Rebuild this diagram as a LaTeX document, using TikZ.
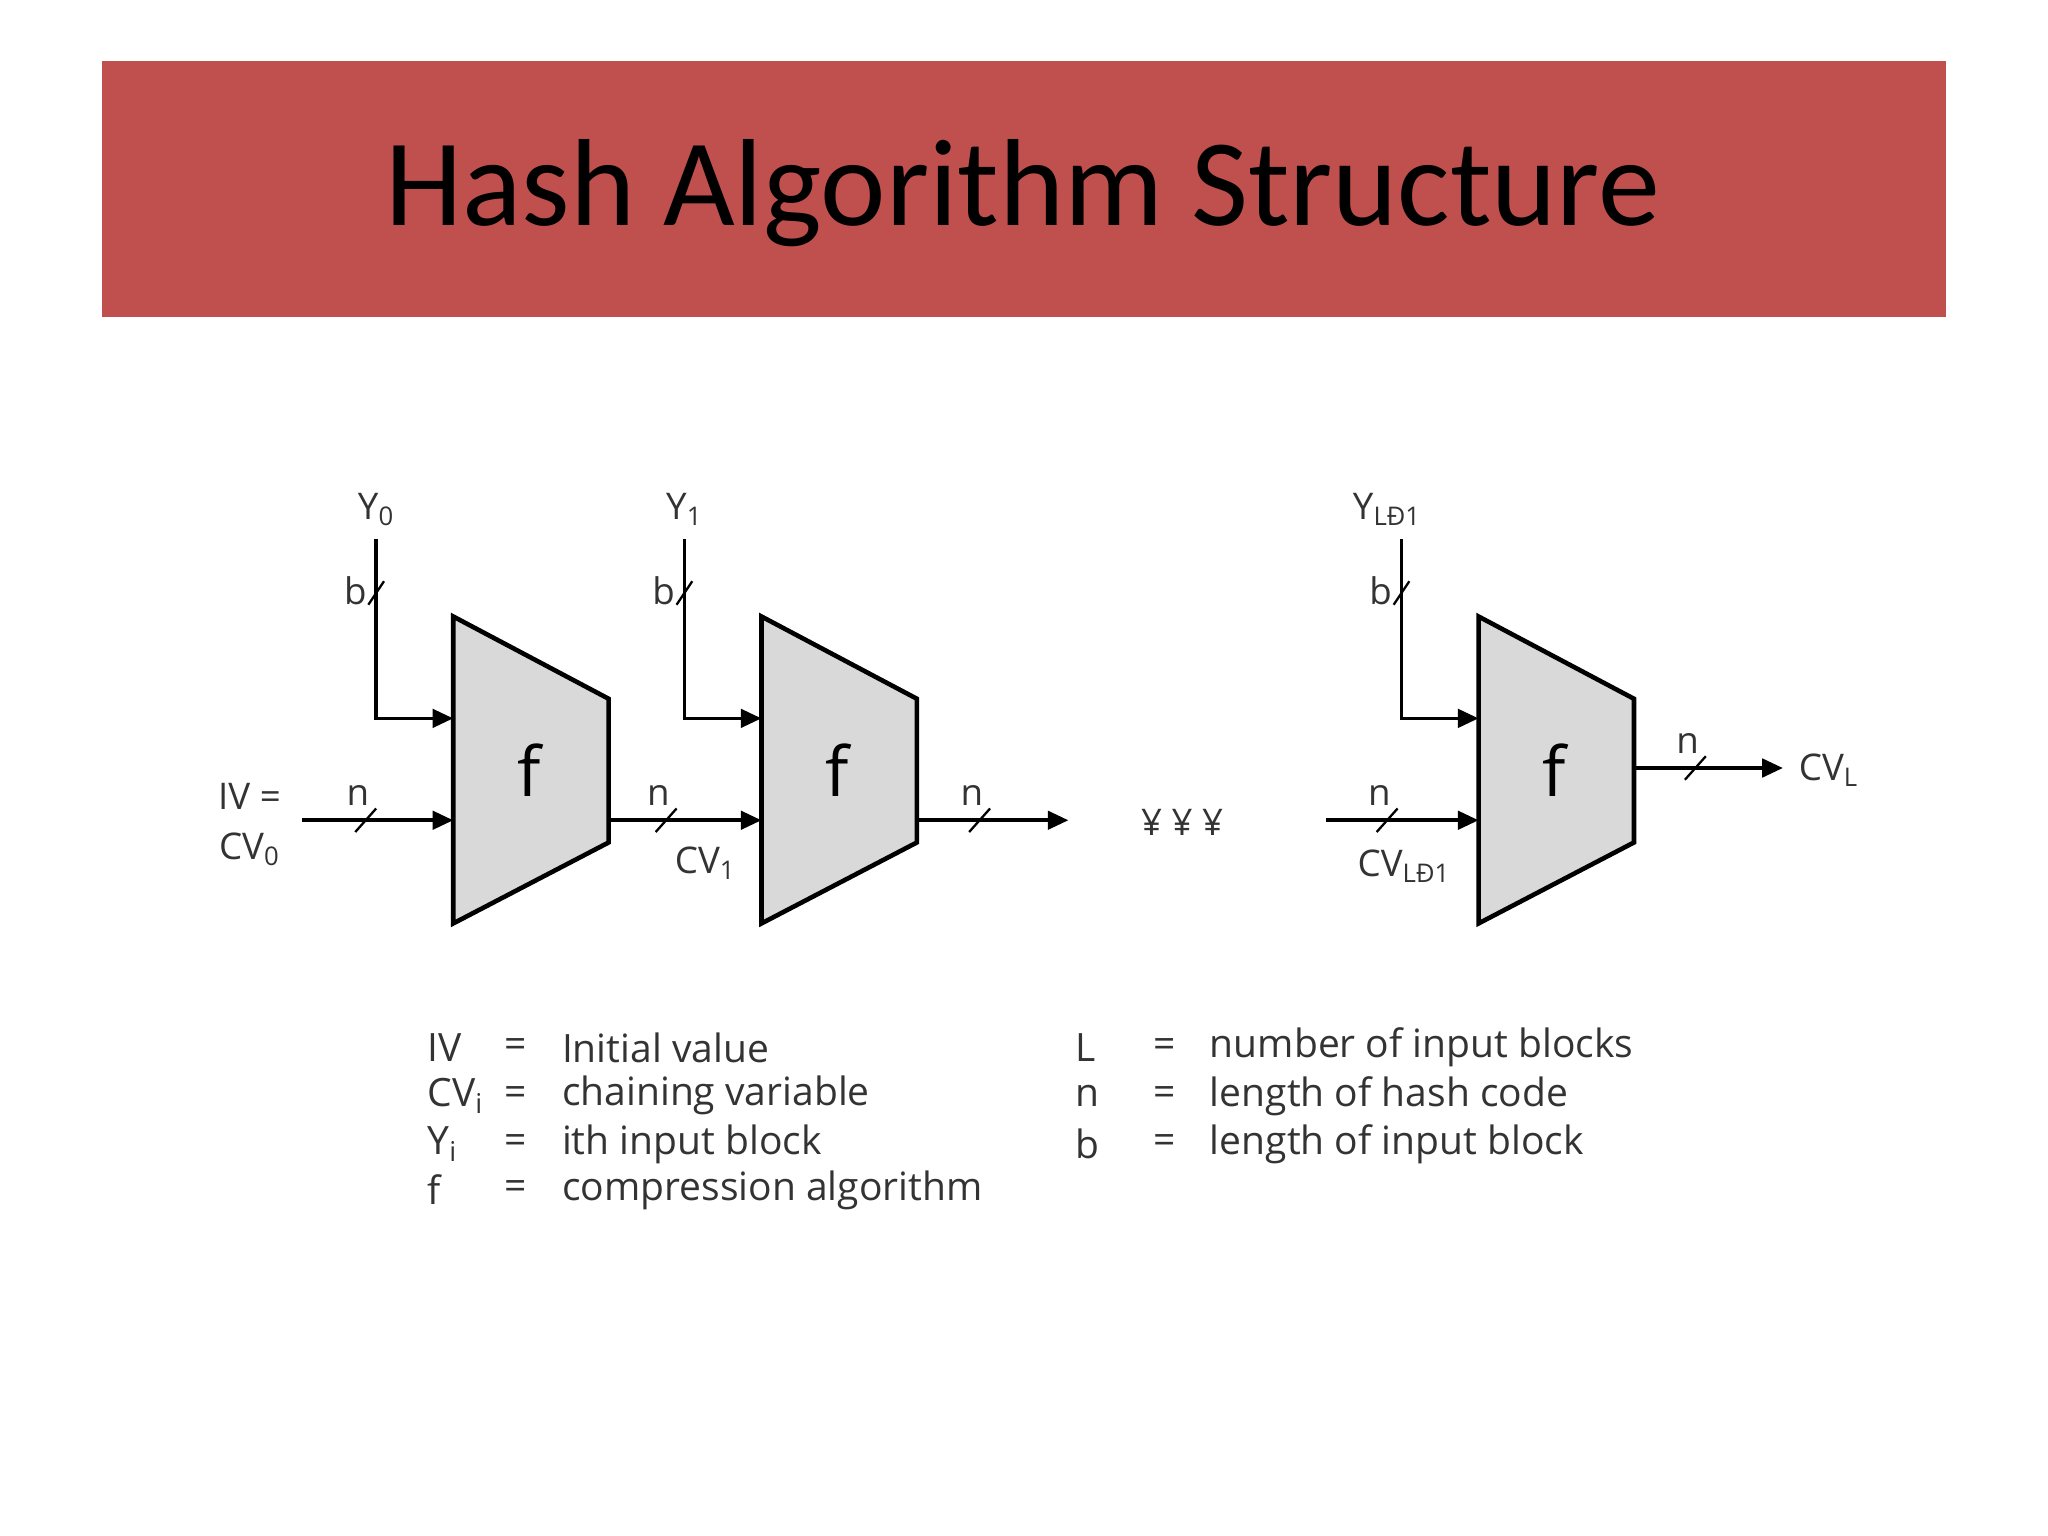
\documentclass[tikz,border=0pt]{standalone}
\usepackage{fontspec}
\setmainfont{Open Sans}
\newfontfamily\titlefont{Carlito}
\usetikzlibrary{arrows.meta}
\definecolor{banner}{HTML}{C0504D}
\definecolor{boxfill}{HTML}{D9D9D9}
\definecolor{txt}{HTML}{333333}
\tikzset{
  wire/.style={line width=1.6pt,black},
  arr/.style={wire,-{Triangle[length=9pt,width=8pt]}},
  trap/.style={line width=2pt,fill=boxfill,line join=miter},
  lbl/.style={text=txt,font=\fontsize{16}{18}\selectfont,inner sep=0pt},
  leg/.style={text=txt,font=\fontsize{17}{20}\selectfont,inner sep=0pt,anchor=west},
  tick/.style={line width=1pt}
}
\begin{document}
\begin{tikzpicture}[x=0.02cm,y=-0.02cm]
\useasboundingbox (0,0) rectangle (1568,1176);
\fill[banner] (78,47) rectangle (1490,243);
\node[font=\titlefont\fontsize{54}{60}\selectfont] (title) at (783,148) {Hash Algorithm Structure};
% blocks
\foreach \n/\x in {a/347,b/583,c/1132}{
  \draw[trap] (\x,472) -- (\x+119,535) -- (\x+119,645) -- (\x,707) -- cycle;
  \node[font=\fontsize{30}{34}\selectfont] (f\n) at (\x+58,590) {f};
  \coordinate (\n top) at (\x,550);
  \coordinate (\n in) at (\x,628);
}
\coordinate (aout) at (466,628);
\coordinate (bout) at (701,628);
\coordinate (cout) at (1250,588);
% Y inputs
\foreach \n/\x in {a/288,b/524,c/1073}{
  \coordinate (y\n) at (\x,413);
  \draw[arr] (y\n) -- (\x,550) -- (\n top);
  \draw[tick] (\x-6,463) -- (\x+6,445);
  \node[lbl] at (\x-16,452) {b};
}
\node[lbl] (Y0) at (288,390) {Y\textsubscript{0}};
\node[lbl] (Y1) at (524,390) {Y\textsubscript{1}};
\node[lbl] (YL) at (1062,390) {Y\textsubscript{LĐ1}};
% chain
\coordinate (ivstart) at (231,628);
\coordinate (dots in) at (818,628);
\coordinate (cstart) at (1015,628);
\coordinate (final) at (1365,588);
\draw[arr] (ivstart) -- (ain);
\draw[arr] (aout) -- (bin);
\draw[arr] (bout) -- (dots in);
\draw[arr] (cstart) -- (cin);
\draw[arr] (cout) -- (final);
\foreach \x/\y in {280/628,510/628,750/628,1062/628,1298/588}{
  \draw[tick] (\x-8,\y+9) -- (\x+8,\y-9);
  \node[lbl] at (\x-6,\y-19) {n};
}
\node[lbl] (iv) at (191,610) {IV =};
\node[lbl] (cv0) at (191,650) {CV\textsubscript{0}};
\node[lbl] (cv1) at (540,661) {CV\textsubscript{1}};
\node[lbl] (dots) at (905,630) {¥ ¥ ¥};
\node[lbl] (cvl1) at (1075,663) {CV\textsubscript{LĐ1}};
\node[lbl] (cvL) at (1400,590) {CV\textsubscript{L}};
% legend
\foreach \a/\c/\y in {IV/Initial value/802,CV\textsubscript{i}/chaining variable/839,Y\textsubscript{i}/ith input block/876,f/compression algorithm/911}{
  \node[leg] at (327,\y) {\a};
  \node[leg] at (386,\y) {=};
  \node[leg] at (430,\y) {\c};
}
\foreach \a/\c/\y in {L/number of input blocks/802,n/length of hash code/839,b/length of input block/876}{
  \node[leg] at (823,\y) {\a};
  \node[leg] at (883,\y) {=};
  \node[leg] at (926,\y) {\c};
}
\end{tikzpicture}
\end{document}
